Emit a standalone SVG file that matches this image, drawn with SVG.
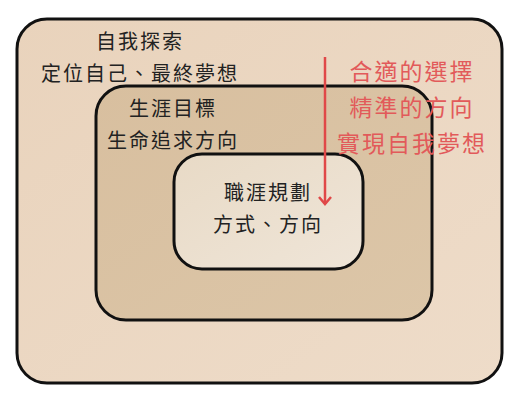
<svg xmlns="http://www.w3.org/2000/svg" width="526" height="402" viewBox="0 0 526 402">
<defs>
<style>
.box{stroke:#111;stroke-width:3}
.t{font-family:"Noto Sans CJK TC","Noto Sans CJK SC",sans-serif;fill:#222;text-anchor:middle;font-size:20px;letter-spacing:2px}
.r{font-family:"Noto Sans CJK TC","Noto Sans CJK SC",sans-serif;fill:#e25a5a;text-anchor:middle;font-size:23px;letter-spacing:2px}
.arrow{fill:none;stroke:#e04848;stroke-width:2.5}
</style>
<linearGradient id="g1" x1="0" y1="0" x2="1" y2="1">
<stop offset="0" stop-color="#e9d3bc"/><stop offset="1" stop-color="#eedcc9"/>
</linearGradient>
<linearGradient id="g2" x1="0" y1="0" x2="1" y2="1">
<stop offset="0" stop-color="#d8bf9f"/><stop offset="1" stop-color="#dcc6a8"/>
</linearGradient>
<linearGradient id="g3" x1="0" y1="0" x2="1" y2="1">
<stop offset="0" stop-color="#e8dac6"/><stop offset="1" stop-color="#efe5d8"/>
</linearGradient>
</defs>
<rect width="526" height="402" fill="#fff"/>
<g id="outer">
<rect class="box" x="17" y="19" width="485" height="364" rx="30" fill="url(#g1)"/>
<text class="t" x="140" y="49">自我探索</text>
<text class="t" x="140" y="81">定位自己、最終夢想</text>
</g>
<g id="middle">
<rect class="box" x="96" y="86" width="336" height="234" rx="30" fill="url(#g2)"/>
<text class="t" x="173" y="116">生涯目標</text>
<text class="t" x="173" y="148">生命追求方向</text>
</g>
<g id="inner">
<rect class="box" x="174" y="154" width="189" height="115" rx="28" fill="url(#g3)"/>
<text class="t" x="268" y="200">職涯規劃</text>
<text class="t" x="268" y="232">方式、方向</text>
</g>
<g id="connectors">
<line class="arrow" x1="325" y1="57" x2="325" y2="204"/>
<polyline class="arrow" points="319,197 325,204 331,197"/>
</g>
<g id="note">
<text class="r" x="412" y="80">合適的選擇</text>
<text class="r" x="412" y="116">精準的方向</text>
<text class="r" x="412" y="152">實現自我夢想</text>
</g>
</svg>
